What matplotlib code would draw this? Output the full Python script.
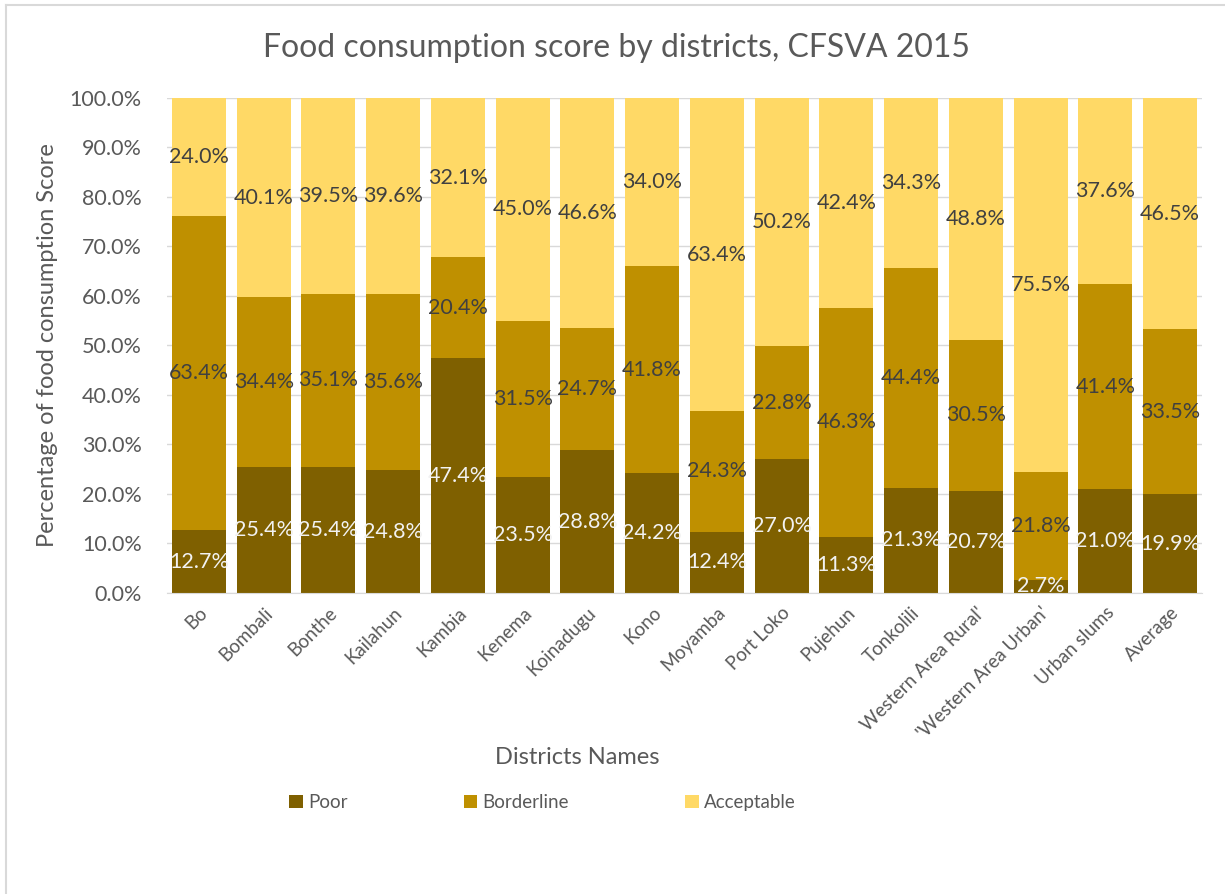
import numpy as np
import matplotlib.pyplot as plt
from matplotlib.lines import Line2D

plt.rcParams['font.family'] = ['Lato', 'DejaVu Sans']

districts = ['Bo', 'Bombali', 'Bonthe', 'Kailahun', 'Kambia', 'Kenema',
             'Koinadugu', 'Kono', 'Moyamba', 'Port Loko', 'Pujehun',
             'Tonkolili', "Western Area Rural'", "'Western Area Urban'",
             'Urban slums', 'Average']
poor = [12.7, 25.4, 25.4, 24.8, 47.4, 23.5, 28.8, 24.2, 12.4, 27.0, 11.3,
        21.3, 20.7, 2.7, 21.0, 19.9]
borderline = [63.4, 34.4, 35.1, 35.6, 20.4, 31.5, 24.7, 41.8, 24.3, 22.8, 46.3,
              44.4, 30.5, 21.8, 41.4, 33.5]
acceptable = [24.0, 40.1, 39.5, 39.6, 32.1, 45.0, 46.6, 34.0, 63.4, 50.2, 42.4,
              34.3, 48.8, 75.5, 37.6, 46.5]

c_poor = '#7f6000'
c_border = '#bf9000'
c_accept = '#ffd966'
txt = '#595959'

fig = plt.figure(figsize=(12.25, 8.94), dpi=100)
ax = fig.add_axes([0.136, 0.3367, 0.8456, 0.5537])

x = np.arange(len(districts))
w = 0.834
poor_a = np.array(poor)
bord_a = np.array(borderline)
acc_a = np.array(acceptable)

b1 = ax.bar(x, poor_a, w, color=c_poor, label='Poor', zorder=2)
b2 = ax.bar(x, bord_a, w, bottom=poor_a, color=c_border, label='Borderline', zorder=2)
b3 = ax.bar(x, acc_a, w, bottom=poor_a + bord_a, color=c_accept, label='Acceptable', zorder=2)

ax.bar_label(b1, labels=[f'{v:.1f}%' for v in poor], label_type='center',
             color='#f2f2f2', fontsize=15.5)
ax.bar_label(b2, labels=[f'{v:.1f}%' for v in borderline], label_type='center',
             color='#404040', fontsize=15.5)
ax.bar_label(b3, labels=[f'{v:.1f}%' for v in acceptable], label_type='center',
             color='#404040', fontsize=15.5)

ax.set_xlim(-0.5, len(districts) - 0.5)
ax.set_ylim(0, 100)
ax.set_yticks(np.arange(0, 101, 10))
ax.set_yticklabels([f'{v:.1f}%' for v in np.arange(0, 101, 10)], color=txt, fontsize=15.5)
ax.set_xticks(x)
ax.set_xticklabels(districts, rotation=45, ha='right', rotation_mode='anchor',
                   color=txt, fontsize=13.5)
ax.tick_params(axis='y', length=0, pad=18)
ax.tick_params(axis='x', length=0, pad=8)
ax.grid(axis='y', color='#d9d9d9', linewidth=1, zorder=0)
for s in ['top', 'right', 'left']:
    ax.spines[s].set_visible(False)
ax.spines['bottom'].set_color('#d9d9d9')

ax.set_ylabel('Percentage of food consumption Score', color=txt, fontsize=17)
ax.yaxis.set_label_coords(-0.105, 0.5)
fig.text(0.471, 0.153, 'Districts Names', color=txt, fontsize=17, ha='center', va='center')
fig.text(0.503, 0.946, 'Food consumption score by districts, CFSVA 2015',
         color=txt, fontsize=23, ha='center', va='center')

leg = fig.legend(handles=[b1, b2, b3], loc='center', bbox_to_anchor=(0.443, 0.102),
                 ncol=3, frameon=False, fontsize=13.5, handlelength=0.7,
                 handleheight=0.7, handletextpad=0.3, columnspacing=6.2)
for t in leg.get_texts():
    t.set_color(txt)

# chart frame: only top and left edges are visible in the screenshot
fig.lines.append(Line2D([0.005, 1.0], [0.9945, 0.9945], transform=fig.transFigure,
                        color='#d9d9d9', linewidth=1.5))
fig.lines.append(Line2D([0.005, 0.005], [0.0, 0.9945], transform=fig.transFigure,
                        color='#d9d9d9', linewidth=1.5))

fig.savefig('out.png', dpi=100)
